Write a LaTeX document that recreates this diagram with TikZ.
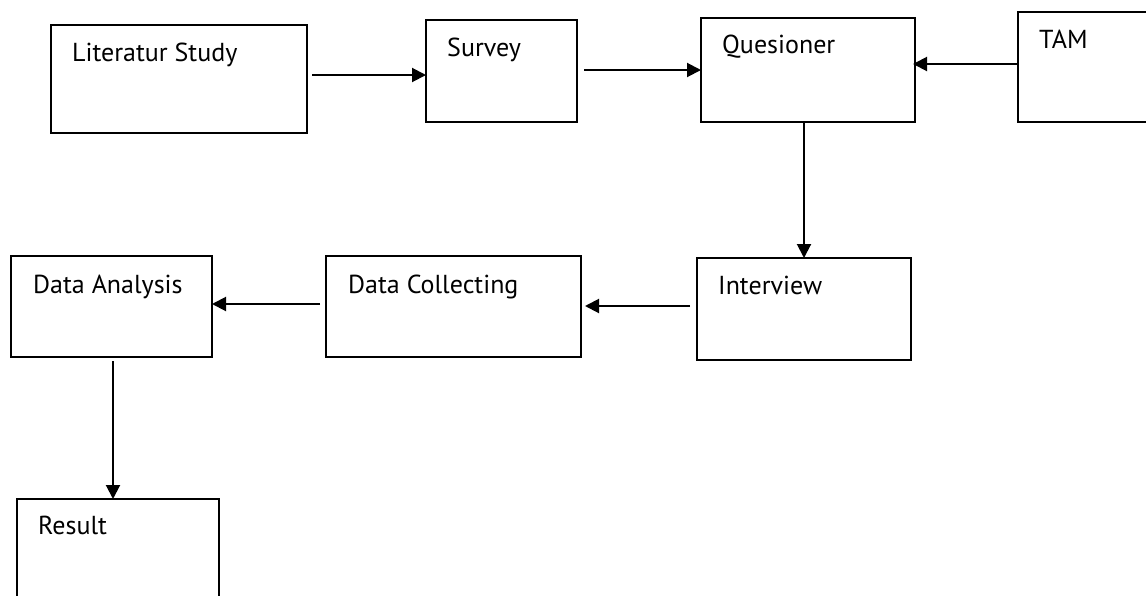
\documentclass[tikz,border=0pt]{standalone}
\usepackage{fontspec}
\setmainfont{PT Sans}
\usetikzlibrary{arrows.meta}
\tikzset{
  box/.style={draw=black, line width=2pt, rectangle, anchor=north west, inner sep=0pt, outer sep=0pt},
  lbl/.style={anchor=base west, inner sep=0pt, font=\fontsize{26}{31}\selectfont},
  arr/.style={line width=2pt, -{Triangle[length=14pt,width=14pt]}}
}
\begin{document}
\begin{tikzpicture}[x=1pt,y=-1pt]
\useasboundingbox (0,0) rectangle (1146,595);
\clip (0,0) rectangle (1146,595);
% boxes
\node[box, minimum width=256pt, minimum height=108pt] (lit) at (51,25) {};
\node[box, minimum width=151pt, minimum height=102pt] (survey) at (426,20) {};
\node[box, minimum width=214pt, minimum height=104pt] (ques) at (701,18) {};
\node[box, minimum width=152pt, minimum height=110pt] (tam) at (1018,12) {};
\node[box, minimum width=214pt, minimum height=102pt] (interview) at (697,258) {};
\node[box, minimum width=255pt, minimum height=101pt] (dc) at (326,256) {};
\node[box, minimum width=201pt, minimum height=101pt] (da) at (11,256) {};
\node[box, minimum width=202pt, minimum height=121pt] (result) at (17,499) {};
% labels
\node[lbl] (tlit) at (72,61) {Literatur Study};
\node[lbl] (tsurvey) at (447,56) {Survey};
\node[lbl] (tques) at (722,53) {Quesioner};
\node[lbl] (ttam) at (1039,48) {TAM};
\node[lbl] (tinterview) at (718,294) {Interview};
\node[lbl] (tdc) at (348,293) {Data Collecting};
\node[lbl] (tda) at (33,293) {Data Analysis};
\node[lbl] (tresult) at (38,534) {Result};
% connectors
\draw[arr] ([xshift=5pt]lit.east |- 0,75) -- (survey.west |- 0,75);
\draw[arr] ([xshift=7pt]survey.east |- 0,70) -- (ques.west |- 0,70);
\draw[arr] (tam.west |- 0,64) -- ([xshift=-2pt]ques.east |- 0,64);
\draw[arr] (ques.south -| 804,0) -- (interview.north -| 804,0);
\draw[arr] ([xshift=-7pt]interview.west |- 0,306) -- ([xshift=4pt]dc.east |- 0,306);
\draw[arr] ([xshift=-6pt]dc.west |- 0,304) -- (da.east |- 0,304);
\draw[arr] ([yshift=-4pt]da.south -| 113,0) -- (result.north -| 113,0);
\end{tikzpicture}
\end{document}
